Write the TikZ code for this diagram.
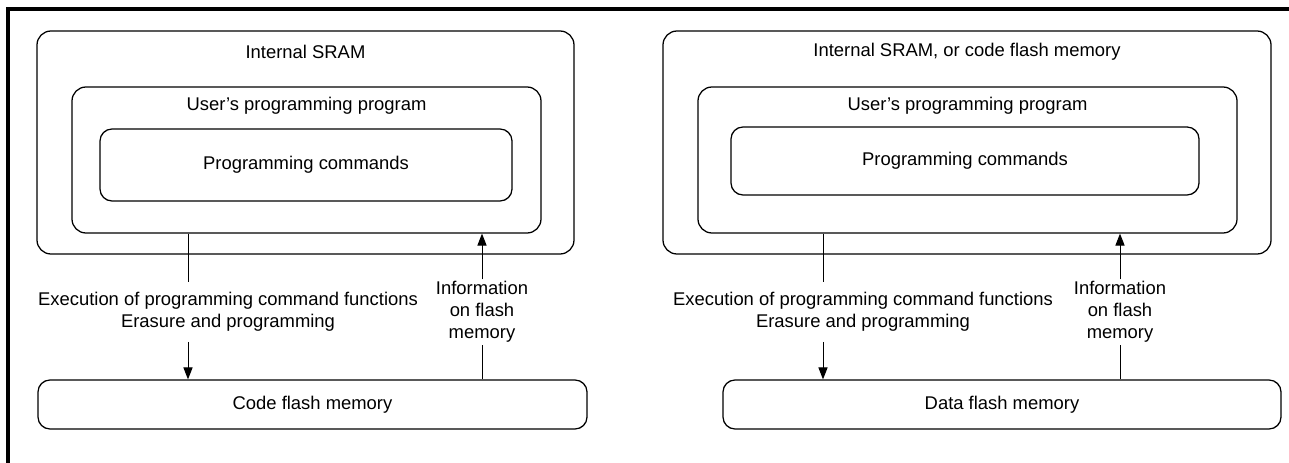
\documentclass[tikz,border=0pt]{standalone}
\usepackage{fontspec}
\setmainfont{Liberation Sans}
\usetikzlibrary{arrows.meta,calc}
\tikzset{
  block/.style={draw,rounded corners=3.5mm,line width=0.9pt,inner sep=0pt},
  pfeil/.style={-{Triangle[length=3mm,width=2.3mm]},line width=0.7pt},
  linie/.style={line width=0.7pt},
  rahmen/.style={line width=2.2pt},
  txt/.style={font=\fontsize{13.1}{15.8}\selectfont,align=center,inner sep=0pt},
}
\begin{document}
\begin{tikzpicture}[x=0.25mm,y=-0.25mm]
  \useasboundingbox (0,0) rectangle (1289,463);
  \draw[rahmen] (8,463)--(8,9)--(1289,9);
  % left side
  \node[block,minimum width=134.25mm,minimum height=55.75mm] (sramL) at (305.5,142.5) {};
  \node[txt] (tsramL) at (305.5,52) {Internal SRAM};
  \node[block,minimum width=117.25mm,minimum height=36.5mm] (userL) at (306.5,160) {};
  \node[txt] (tuserL) at (306.5,106) {User’s programming program};
  \node[block,txt,draw,rounded corners=3mm,minimum width=103mm,minimum height=18mm] (cmdL) at (306,165) {Programming commands};
  \node[block,txt,draw,rounded corners=3mm,minimum width=137.25mm,minimum height=12.25mm] (codeL) at (312.5,404.5) {Code flash memory};
  \node[txt,inner ysep=2.5mm] (execL) at (228,312) {Execution of programming command functions\\Erasure and programming};
  \node[txt,inner ysep=0.4mm] (infoL) at (482,312) {Information\\on flash\\memory};
  \coordinate (dnL) at (188,0);
  \coordinate (upL) at (482,0);
  \draw[linie] (userL.south -| dnL)--(execL.north -| dnL);
  \draw[pfeil] (execL.south -| dnL)--(codeL.north -| dnL);
  \draw[linie] (codeL.north -| upL)--(infoL.south -| upL);
  \draw[pfeil] (infoL.north -| upL)--(userL.south -| upL);
  % right side
  \node[block,minimum width=152mm,minimum height=55.75mm] (sramR) at (967,142.5) {};
  \node[txt] (tsramR) at (967,52) {Internal SRAM, or code flash memory};
  \node[block,minimum width=134.75mm,minimum height=36.5mm] (userR) at (967.5,160) {};
  \node[txt] (tuserR) at (967.5,106) {User’s programming program};
  \node[block,txt,draw,rounded corners=3mm,minimum width=117mm,minimum height=17mm] (cmdR) at (965,161) {Programming commands};
  \node[block,txt,draw,rounded corners=3mm,minimum width=139.5mm,minimum height=12.25mm] (dataR) at (1002,404.5) {Data flash memory};
  \node[txt,inner ysep=2.5mm] (execR) at (863,312) {Execution of programming command functions\\Erasure and programming};
  \node[txt,inner ysep=0.4mm] (infoR) at (1120,312) {Information\\on flash\\memory};
  \coordinate (dnR) at (823,0);
  \coordinate (upR) at (1120,0);
  \draw[linie] (userR.south -| dnR)--(execR.north -| dnR);
  \draw[pfeil] (execR.south -| dnR)--(dataR.north -| dnR);
  \draw[linie] (dataR.north -| upR)--(infoR.south -| upR);
  \draw[pfeil] (infoR.north -| upR)--(userR.south -| upR);
\end{tikzpicture}
\end{document}
